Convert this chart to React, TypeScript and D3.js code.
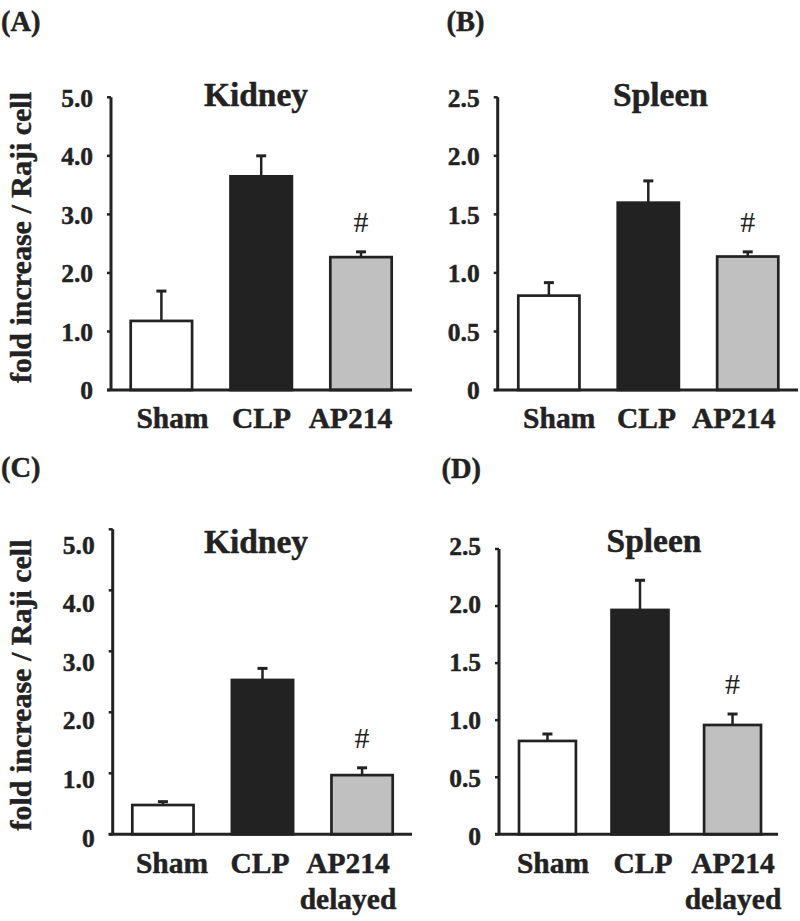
import React from "react";
import * as d3 from "d3";

const groups = ["Sham", "CLP", "AP214"];
const groupLabelsTop = [["Sham"], ["CLP"], ["AP214"]];
const groupLabelsBottom = [["Sham"], ["CLP"], ["AP214", "delayed"]];
const markers = ["", "", "#"];

const kidneyTicks = [0, 1, 2, 3, 4, 5];
const spleenTicks = [0, 0.5, 1, 1.5, 2, 2.5];

const kidneyA = [1.18, 3.65, 2.27];
const kidneyAErr = [0.51, 0.35, 0.09];
const spleenB = [0.806, 1.6, 1.14];
const spleenBErr = [0.111, 0.186, 0.04];
const kidneyC = [0.48, 2.53, 0.97];
const kidneyCErr = [0.055, 0.19, 0.12];
const spleenD = [0.818, 1.966, 0.958];
const spleenDErr = [0.061, 0.26, 0.096];

const FILLS = ["#ffffff", "#222222", "#c0c0c0"];
const INK = "#222222";
const FONT = "'Liberation Serif', 'Times New Roman', serif";
const TEXT_STROKE = 0.45;

type Panel = {
  letter: string;
  letterX: number;
  letterY: number;
  title: string;
  titleX: number;
  titleY: number;
  axisX: number;
  xEnd: number;
  yTop: number;
  yBottom: number;
  labelTop: number;
  labelBottom: number;
  barRange: [number, number];
  catLabelRange: [number, number];
  catBaseline: number;
  ticks: number[];
  values: number[];
  errs: number[];
  cats: string[][];
  yLabel?: { x: number; y: number };
};

const panels: Panel[] = [
  {
    letter: "(A)", letterX: 1, letterY: 31, title: "Kidney", titleX: 256, titleY: 106,
    axisX: 111, xEnd: 412, yTop: 97.3, yBottom: 390, labelTop: 98.3, labelBottom: 390.7,
    barRange: [130.7, 391.7], catLabelRange: [128, 395], catBaseline: 428,
    ticks: kidneyTicks, values: kidneyA, errs: kidneyAErr, cats: groupLabelsTop,
    yLabel: { x: 31, y: 237.5 },
  },
  {
    letter: "(B)", letterX: 446.5, letterY: 31, title: "Spleen", titleX: 660.5, titleY: 106,
    axisX: 497.7, xEnd: 798, yTop: 97.3, yBottom: 390, labelTop: 98.3, labelBottom: 390.7,
    barRange: [518.3, 778.3], catLabelRange: [515.5, 777.5], catBaseline: 428,
    ticks: spleenTicks, values: spleenB, errs: spleenBErr, cats: groupLabelsTop,
  },
  {
    letter: "(C)", letterX: 1, letterY: 477, title: "Kidney", titleX: 256, titleY: 553,
    axisX: 112.7, xEnd: 412, yTop: 529.3, yBottom: 834.3, labelTop: 545, labelBottom: 838,
    barRange: [132.3, 392.7], catLabelRange: [128, 392], catBaseline: 873,
    ticks: kidneyTicks, values: kidneyC, errs: kidneyCErr, cats: groupLabelsBottom,
    yLabel: { x: 31, y: 685 },
  },
  {
    letter: "(D)", letterX: 441.5, letterY: 478, title: "Spleen", titleX: 654, titleY: 552,
    axisX: 499, xEnd: 778, yTop: 549, yBottom: 834.3, labelTop: 546, labelBottom: 836.7,
    barRange: [519, 761], catLabelRange: [508, 778], catBaseline: 873,
    ticks: spleenTicks, values: spleenD, errs: spleenDErr, cats: groupLabelsBottom,
  },
];

function fmt(v: number) {
  return v === 0 ? "0" : v.toFixed(1);
}

const boldText = {
  fontFamily: FONT,
  fontWeight: "bold" as const,
  fill: INK,
  stroke: INK,
  strokeWidth: TEXT_STROKE,
};

function PanelView({ p }: { p: Panel }) {
  const yMax = p.ticks[p.ticks.length - 1];
  const y = d3.scaleLinear().domain([0, yMax]).range([p.yBottom, p.yTop]);
  const yLab = d3.scaleLinear().domain([0, yMax]).range([p.labelBottom, p.labelTop]);
  const x = d3.scaleBand<string>().domain(groups).range(p.barRange).paddingInner(0.385).paddingOuter(0);
  const xLab = d3.scalePoint<string>().domain(groups).range(p.catLabelRange).padding(0.5);
  const bw = x.bandwidth();
  const capHalf = 5;

  return (
    <g>
      <text x={p.letterX} y={p.letterY} fontSize={28.5} {...boldText}>
        {p.letter}
      </text>
      <text x={p.titleX} y={p.titleY} textAnchor="middle" fontSize={33.5} {...boldText}>
        {p.title}
      </text>
      {p.yLabel && (
        <text
          transform={`translate(${p.yLabel.x},${p.yLabel.y}) rotate(-90)`}
          textAnchor="middle"
          fontSize={30}
          {...boldText}
        >
          fold increase / Raji cell
        </text>
      )}
      {groups.map((g, i) => {
        const v = p.values[i];
        const e = p.errs[i];
        const cx = (x(g) as number) + bw / 2;
        return (
          <g key={g}>
            <line x1={cx} x2={cx} y1={y(v)} y2={y(v + e)} stroke={INK} strokeWidth={2.5} />
            <line x1={cx - capHalf} x2={cx + capHalf} y1={y(v + e)} y2={y(v + e)} stroke={INK} strokeWidth={3} />
            <rect
              x={x(g)}
              y={y(v)}
              width={bw}
              height={p.yBottom - y(v)}
              fill={FILLS[i]}
              stroke={INK}
              strokeWidth={2.7}
            />
            {markers[i] && (
              <text
                x={cx}
                y={y(v + e) - 20}
                textAnchor="middle"
                fontFamily={FONT}
                fontSize={30}
                fill={INK}
              >
                {markers[i]}
              </text>
            )}
          </g>
        );
      })}
      <line x1={p.axisX} x2={p.axisX} y1={p.yTop} y2={p.yBottom} stroke={INK} strokeWidth={3} />
      {p.ticks.map((t) => (
        <g key={t}>
          <line x1={p.axisX - 4} x2={p.axisX} y1={y(t)} y2={y(t)} stroke={INK} strokeWidth={2.5} />
          <text
            x={p.axisX - 18}
            y={yLab(t)}
            dy="0.34em"
            textAnchor="end"
            fontSize={25.5}
            {...boldText}
          >
            {fmt(t)}
          </text>
        </g>
      ))}
      <line x1={p.axisX - 4} x2={p.xEnd} y1={p.yBottom} y2={p.yBottom} stroke={INK} strokeWidth={3} />
      {groups.map((g, i) => (
        <text
          key={g}
          x={xLab(g)}
          y={p.catBaseline}
          textAnchor="middle"
          fontSize={29.5}
          {...boldText}
        >
          {p.cats[i].map((line, j) => (
            <tspan key={j} x={xLab(g)} dy={j === 0 ? 0 : 36}>
              {line}
            </tspan>
          ))}
        </text>
      ))}
    </g>
  );
}

export default function App() {
  return (
    <svg
      width={800}
      height={921}
      viewBox="0 0 800 921"
      style={{ position: "absolute", left: 0, top: 0, background: "#ffffff" }}
    >
      <rect x={0} y={0} width={800} height={921} fill="#ffffff" />
      {panels.map((p) => (
        <PanelView key={p.letter} p={p} />
      ))}
    </svg>
  );
}
